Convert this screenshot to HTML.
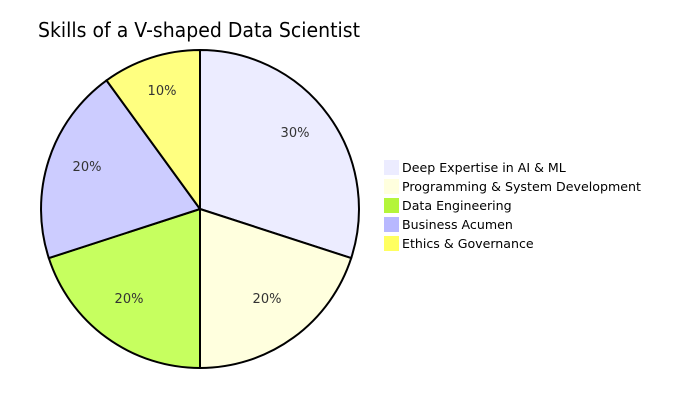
<!DOCTYPE html>
<html><head><style>body{margin:0;background:#fff}</style></head><body>
<svg width="684" height="400" xmlns="http://www.w3.org/2000/svg" font-family="'DejaVu Sans','Liberation Sans',sans-serif">
<text x="38" y="37" font-size="20" fill="#000" textLength="322" lengthAdjust="spacingAndGlyphs">Skills of a V-shaped Data Scientist</text>
<g stroke="#000" stroke-width="2">
<path d="M200,209 L200,50 A159,159 0 0 1 351.2,258.1 Z" fill="#ececff"/>
<path d="M200,209 L351.2,258.1 A159,159 0 0 1 200,368 Z" fill="#ffffde"/>
<path d="M200,209 L200,368 A159,159 0 0 1 48.8,258.1 Z" fill="#c6ff5f"/>
<path d="M200,209 L48.8,258.1 A159,159 0 0 1 106.5,80.4 Z" fill="#ccccff"/>
<path d="M200,209 L106.5,80.4 A159,159 0 0 1 200,50 Z" fill="#ffff80"/>
</g>
<g font-size="13" fill="#333" text-anchor="middle">
<text x="295" y="137">30%</text>
<text x="267" y="303">20%</text>
<text x="129" y="303">20%</text>
<text x="87" y="171">20%</text>
<text x="162" y="95">10%</text>
</g>
<g font-size="12.6" fill="#000">
<rect x="384" y="160" width="15" height="15" fill="#ececff"/><text x="402" y="172">Deep Expertise in AI &amp; ML</text>
<rect x="384" y="179" width="15" height="15" fill="#ffffde"/><text x="402" y="191" textLength="239" lengthAdjust="spacingAndGlyphs">Programming &amp; System Development</text>
<rect x="384" y="198" width="15" height="15" fill="#b4f53a"/><text x="402" y="210">Data Engineering</text>
<rect x="384" y="217" width="15" height="15" fill="#b8b8ff"/><text x="402" y="229">Business Acumen</text>
<rect x="384" y="236" width="15" height="15" fill="#ffff60"/><text x="402" y="248">Ethics &amp; Governance</text>
</g>
</svg>
</body></html>
